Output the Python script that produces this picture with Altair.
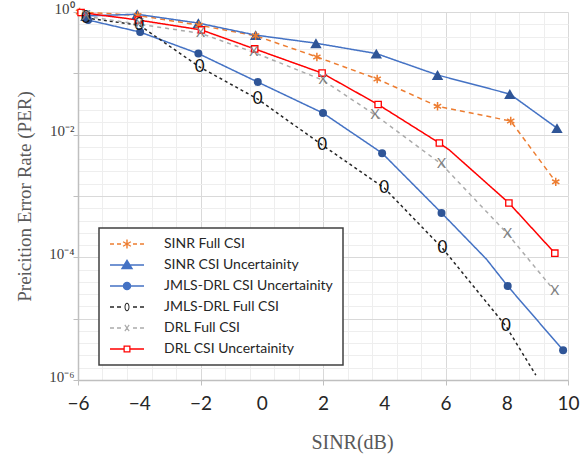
import math
import altair as alt
import pandas as pd

# ---------------- data ----------------
SERIES = ["SINR Full CSI", "SINR  CSI Uncertainity", "JMLS-DRL CSI Uncertainity",
          "JMLS-DRL Full CSI", "DRL Full CSI", "DRL CSI Uncertainity"]

sinr_full_x = [-5.95, -4.05, -2.05, -0.2, 1.8, 3.77, 5.74, 8.13, 9.6]
sinr_full_y = [1.0, 0.88, 0.61, 0.41, 0.185, 0.081, 0.029, 0.0167, 0.0017]
sinr_full_m = [1, 1, 1, 1, 1, 1, 1, 1, 1]

sinr_unc_x = [-5.74, -4.07, -2.07, -0.2, 1.77, 3.74, 5.74, 8.1, 9.64]
sinr_unc_y = [0.86, 0.92, 0.66, 0.42, 0.31, 0.21, 0.094, 0.046, 0.0128]
sinr_unc_m = [1, 1, 1, 1, 1, 1, 1, 1, 1]

jmls_unc_x = [-5.67, -3.97, -2.07, -0.13, 2.0, 3.93, 5.87, 7.34, 8.03, 9.84]
jmls_unc_y = [0.74, 0.47, 0.21, 0.072, 0.0225, 0.005, 5.3e-4, 9.3e-5, 3.4e-5, 3.06e-6]
jmls_unc_m = [1, 1, 1, 1, 1, 1, 1, 0, 1, 1]

jmls_full_x = [-5.74, -4.0, -2.03, -0.13, 1.97, 4.0, 5.9, 7.97, 8.95]
jmls_full_y = [0.8, 0.61, 0.127, 0.038, 0.0068, 0.00135, 1.41e-4, 7.6e-6, 1.2e-6]
jmls_full_m = [1, 1, 1, 1, 1, 1, 1, 1, 0]

drl_full_x = [-5.74, -4.0, -2.0, -0.26, 2.0, 3.7, 5.87, 8.03, 9.57]
drl_full_y = [0.85, 0.63, 0.45, 0.22, 0.077, 0.021, 0.0033, 2.4e-4, 2.8e-5]
drl_full_m = [1, 1, 1, 1, 1, 1, 1, 1, 1]

drl_unc_x = [-5.9, -4.03, -1.97, -0.23, 1.97, 3.8, 5.8, 6.13, 8.07, 9.57]
drl_unc_y = [0.98, 0.74, 0.51, 0.25, 0.101, 0.031, 0.0073, 0.0056, 7.7e-4, 1.17e-4]
drl_unc_m = [1, 1, 1, 1, 1, 1, 1, 0, 1, 1]

x_tick_labels = [-6, -4, -2, 0, 2, 4, 6, 8, 10]
y_tick_labels = [1, 1e-2, 1e-4, 1e-6]

# ---------------- table ----------------
rows = []
for name, xs, ys, ms in [
    (SERIES[0], sinr_full_x, sinr_full_y, sinr_full_m),
    (SERIES[1], sinr_unc_x, sinr_unc_y, sinr_unc_m),
    (SERIES[2], jmls_unc_x, jmls_unc_y, jmls_unc_m),
    (SERIES[3], jmls_full_x, jmls_full_y, jmls_full_m),
    (SERIES[4], drl_full_x, drl_full_y, drl_full_m),
    (SERIES[5], drl_unc_x, drl_unc_y, drl_unc_m),
]:
    for xv, yv, mv in zip(xs, ys, ms):
        rows.append({"series": name, "x": xv, "y": yv, "marker": mv})
df = pd.DataFrame(rows)

# ---------------- styles ----------------
LINE_COLORS = ["#ED7D31", "#4472C4", "#4472C4", "#262626", "#ABABAB", "#FF0000"]
DASHES = [[5, 4], [1, 0], [1, 0], [3, 3], [4, 4], [1, 0]]

# axis grid positions (Excel: major unit 4, minor 0.8 on x; decades / fifths of decade on y)
minor_x = [round(-6 + 0.8 * i, 2) for i in range(21)]
major_x = [-6, -2, 2, 6, 10]
minor_y = [10 ** (-k / 5) for k in range(31)]
major_y = [10 ** (-k) for k in range(7)]

xs_ = alt.Scale(domain=[-6, 10], nice=False, zero=False)
ys_ = alt.Scale(type="log", domain=[1e-6, 1], nice=False)

# ---- legend symbol paths (filled geometry, unit = sqrt(symbolSize)/2 px) ----
H = 0.15
L = 3.4


def f(v):
    return f"{v:.3f}"


def rect(x0, x1, h=H):
    return f"M{f(x0)},{f(-h)}L{f(x1)},{f(-h)}L{f(x1)},{f(h)}L{f(x0)},{f(h)}Z"


def bar(angle_deg, half_len, half_th):
    a = math.radians(angle_deg)
    dx, dy = math.cos(a), math.sin(a)
    nx, ny = -dy, dx
    pts = [(-dx * half_len - nx * half_th, -dy * half_len - ny * half_th),
           (dx * half_len - nx * half_th, dy * half_len - ny * half_th),
           (dx * half_len + nx * half_th, dy * half_len + ny * half_th),
           (-dx * half_len + nx * half_th, -dy * half_len + ny * half_th)]
    return "M" + "L".join(f"{f(px)},{f(py)}" for px, py in pts) + "Z"


def dashed(gap_half, d=0.8, g=0.6):
    out = []
    pos = -L
    while pos < -gap_half - 0.05:
        end = min(pos + d, -gap_half)
        out.append(rect(pos, end))
        out.append(rect(-end, -pos))
        pos = end + g
    return "".join(out)


star_sym = dashed(1.0) + bar(90, 0.9, 0.14) + bar(30, 0.9, 0.14) + bar(-30, 0.9, 0.14)
tri_sym = rect(-L, L) + "M0,-1.2L1.25,0.85L-1.25,0.85Z"
circ_sym = rect(-L, L) + "M0.85,0A0.85,0.85 0 1 1 -0.85,0A0.85,0.85 0 1 1 0.85,0Z"
zero_sym = (dashed(0.75) + "M0,-0.85A0.5,0.85 0 1 1 0,0.85A0.5,0.85 0 1 1 0,-0.85Z"
            + "M0,-0.65A0.3,0.65 0 1 0 0,0.65A0.3,0.65 0 1 0 0,-0.65Z")
x_sym = dashed(0.75) + bar(55, 0.75, 0.12) + bar(-55, 0.75, 0.12)
sq_sym = (rect(-L, -0.7) + rect(0.7, L) + "M-0.7,-0.7L0.7,-0.7L0.7,0.7L-0.7,0.7Z"
          + "M-0.45,-0.45L-0.45,0.45L0.45,0.45L0.45,-0.45Z")
LEGEND_SHAPES = [star_sym, tri_sym, circ_sym, zero_sym, x_sym, sq_sym]

ASTERISK = "M0,-1L0,1M-0.87,-0.5L0.87,0.5M-0.87,0.5L0.87,-0.5"

# ---------------- axes ----------------
ax_minor_x = alt.Axis(orient="bottom", values=minor_x, grid=True, gridColor="#eeeeee",
                      labels=False, ticks=False, domain=False, title=None)
ax_minor_y = alt.Axis(orient="left", values=minor_y, grid=True, gridColor="#eeeeee",
                      labels=False, ticks=False, domain=False, title=None)
ax_major_x = alt.Axis(orient="bottom", values=major_x, grid=True, gridColor="#d9d9d9",
                      ticks=True, tickColor="#bfbfbf", tickSize=5, labels=False,
                      domain=True, domainColor="#bfbfbf", domainWidth=1.5, title=None)
ax_major_y = alt.Axis(orient="left", values=major_y, grid=True, gridColor="#d9d9d9",
                      ticks=True, tickColor="#bfbfbf", tickSize=5, labels=False,
                      domain=True, domainColor="#bfbfbf", domainWidth=1.5, title=None)
ax_lab_x = alt.Axis(orient="bottom", values=x_tick_labels, grid=False, ticks=False, domain=False,
                    labelFont="Lato", labelFontSize=19, labelColor="#262626", labelPadding=14,
                    labelFlush=False, labelOverlap=False,
                    title="SINR(dB)", titleFont="Liberation Serif", titleFontSize=20,
                    titleFontWeight="normal", titleColor="#595959",
                    titleX=274, titleY=68, titleBaseline="alphabetic")
ax_lab_y = alt.Axis(orient="left", values=y_tick_labels, grid=False, ticks=False, domain=False,
                    labelExpr="datum.value > 0.5 ? '10⁰' : datum.value > 0.005 ? '10⁻²' : datum.value > 0.00005 ? '10⁻⁴' : '10⁻⁶'",
                    labelFont="Liberation Serif", labelFontSize=15, labelColor="#404040",
                    labelPadding=4, labelOffset=-4, labelOverlap=False, labelFlush=False,
                    title="Preicition Error Rate (PER)", titleFont="Liberation Serif",
                    titleFontSize=19, titleFontWeight="normal", titleColor="#595959",
                    titleX=-54, titleY=184, titleBaseline="middle", titleAlign="center")

base = alt.Chart(df)

color_scale = alt.Scale(domain=SERIES, range=LINE_COLORS)

# legend-only layer (first, so its legend settings win when legends are merged)
legend_layer = base.transform_filter("false").mark_point(filled=True, opacity=1, strokeWidth=0).encode(
    color=alt.Color("series:N", scale=color_scale,
                    legend=alt.Legend(orient="none", legendX=21, legendY=216, title=None,
                                      fillColor="white", strokeColor="#404040", padding=9,
                                      rowPadding=7, symbolSize=100, symbolOffset=12,
                                      labelOffset=30, labelFont="Lato", labelFontSize=14,
                                      labelColor="#262626", labelLimit=400, symbolStrokeWidth=0)),
    shape=alt.Shape("series:N", scale=alt.Scale(domain=SERIES, range=LEGEND_SHAPES),
                    legend=alt.Legend(orient="none", legendX=21, legendY=216, title=None)),
)

lines = base.mark_line(strokeWidth=1.5).encode(
    x=alt.X("x:Q", scale=xs_, axis=ax_minor_x),
    y=alt.Y("y:Q", scale=ys_, axis=ax_minor_y),
    color=alt.Color("series:N", scale=color_scale, legend=None),
    strokeDash=alt.StrokeDash("series:N", scale=alt.Scale(domain=SERIES, range=DASHES), legend=None),
    order="x:Q",
)


def sel(name):
    return (alt.datum.series == name) & (alt.datum.marker == 1)


tri = base.transform_filter(sel(SERIES[1])).mark_point(
    shape="triangle-up", filled=True, color="#2F5597", size=130, opacity=1, strokeWidth=0
).encode(x=alt.X("x:Q", scale=xs_, axis=ax_major_x), y=alt.Y("y:Q", scale=ys_, axis=ax_major_y))

circ = base.transform_filter(sel(SERIES[2])).mark_point(
    shape="circle", filled=True, color="#2F5597", size=64, opacity=1, strokeWidth=0
).encode(x=alt.X("x:Q", scale=xs_, axis=ax_lab_x), y=alt.Y("y:Q", scale=ys_, axis=ax_lab_y))

star = base.transform_filter(sel(SERIES[0])).mark_point(
    shape=ASTERISK, filled=False, color="#ED7D31", size=70, opacity=1, strokeWidth=1.5
).encode(x=alt.X("x:Q", scale=xs_, axis=None), y=alt.Y("y:Q", scale=ys_, axis=None))

sq = base.transform_filter(sel(SERIES[5])).mark_point(
    shape="square", filled=True, fill="white", stroke="#FF0000", size=40, opacity=1, strokeWidth=1.3
).encode(x=alt.X("x:Q", scale=xs_, axis=None), y=alt.Y("y:Q", scale=ys_, axis=None))

t0 = base.transform_filter(sel(SERIES[3])).mark_text(
    text="0", font="Lato", fontSize=17, color="#111111", baseline="middle", align="center"
).encode(x=alt.X("x:Q", scale=xs_, axis=None), y=alt.Y("y:Q", scale=ys_, axis=None))

tx = base.transform_filter(sel(SERIES[4])).mark_text(
    text="X", font="Lato", fontSize=14, color="#7F7F7F", baseline="middle", align="center"
).encode(x=alt.X("x:Q", scale=xs_, axis=None), y=alt.Y("y:Q", scale=ys_, axis=None))

chart = alt.layer(legend_layer, lines, tri, circ, star, sq, t0, tx).resolve_axis(
    x="independent", y="independent"
).properties(
    width=490, height=368, autosize="none",
    padding={"left": 78, "top": 12, "right": 12, "bottom": 81},
    background="white",
).configure_view(stroke="#d9d9d9", strokeWidth=1).configure_legend(strokeWidth=1.5)

chart.save("out.html", embed_options={"renderer": "svg", "actions": False})
